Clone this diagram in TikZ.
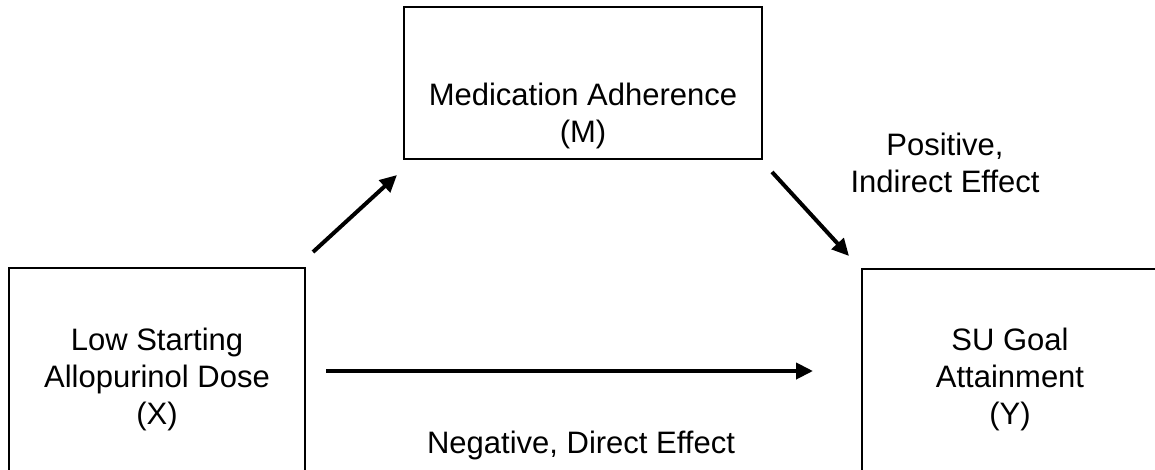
\documentclass[tikz,border=0pt]{standalone}
\usepackage{fontspec}
\setmainfont{Liberation Sans}
\usetikzlibrary{arrows.meta}
\begin{document}
\begin{tikzpicture}[x=1pt,y=-1pt,
  box/.style={draw=black,line width=2pt,rectangle,inner sep=0pt},
  lbl/.style={font=\fontsize{31}{37}\selectfont,align=center,anchor=base,inner sep=0pt},
  conn/.style={line width=4pt,-{Triangle[length=17pt,width=16pt]}}]
\useasboundingbox (0,0) rectangle (1155,469);
\clip (0,0) rectangle (1155,469);
\fill[white] (0,0) rectangle (1155,469);
% boxes
\node[box,minimum width=296pt,minimum height=216pt] (boxX) at (157,376) {};
\node[box,minimum width=358pt,minimum height=152pt] (boxM) at (583,83) {};
\node[box,minimum width=296pt,minimum height=216pt] (boxY) at (1010,377) {};
% texts (base anchor = baseline of the last line)
\node[lbl] (tX) at (157,424) {Low Starting\\Allopurinol Dose\\(X)};
\node[lbl] (tM) at (583,142) {Medication Adherence\\(M)};
\node[lbl] (tY) at (1010,424) {SU Goal\\Attainment\\(Y)};
\node[lbl] (pos) at (945,192) {Positive,\\Indirect Effect};
\node[lbl] (neg) at (581,453) {Negative, Direct Effect};
% connector ends
\coordinate (a1s) at (313,252);
\coordinate (a1e) at (397,175);
\coordinate (a2s) at (772,172);
\coordinate (a2e) at (849,256);
\coordinate (a3s) at (326,371);
\coordinate (a3e) at (813,371);
\draw[conn] (a1s) -- (a1e);
\draw[conn] (a2s) -- (a2e);
\draw[conn] (a3s) -- (a3e);
\end{tikzpicture}
\end{document}
